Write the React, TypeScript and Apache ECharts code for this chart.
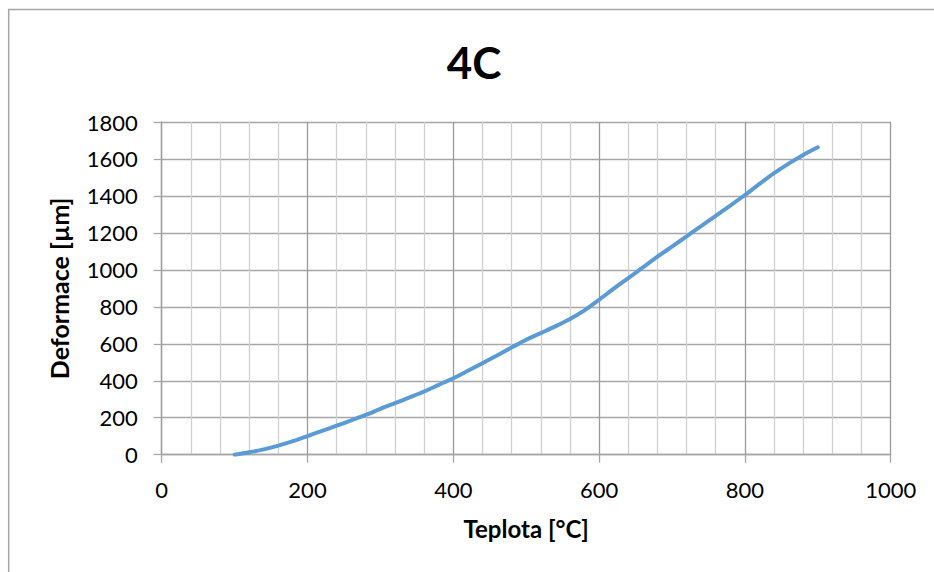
import React, { useEffect, useRef } from "react";
import * as echarts from "echarts";

// Teplota [°C]
const temperature: number[] = [
  100, 120, 140, 160, 180, 200, 220, 240, 260, 280, 300, 320, 340, 360, 380,
  400, 420, 440, 460, 480, 500, 520, 540, 560, 580, 600, 620, 640, 660, 680,
  700, 720, 740, 760, 780, 800, 820, 840, 860, 880, 900,
];

// Deformace [µm]
const deformation: number[] = [
  0, 13, 29, 49, 73, 101, 129, 157, 186, 215, 248, 279, 310, 342, 378,
  414, 454, 495, 537, 580, 622, 658, 694, 734, 781, 838, 898, 955, 1013, 1071,
  1126, 1181, 1237, 1292, 1348, 1405, 1465, 1523, 1575, 1622, 1663,
];

const chartTitle = "4C";
const xTitle = "Teplota [°C]";
const yTitle = "Deformace [µm]";

const FONT = "Lato, 'Open Sans', sans-serif";

const plain = (v: number) => String(v);

export default function App() {
  const ref = useRef<HTMLDivElement>(null);

  useEffect(() => {
    if (!ref.current) return;
    const chart = echarts.init(ref.current, undefined, { renderer: "svg" });

    const points = temperature.map((t, i) => [t, deformation[i]]);

    chart.setOption({
      animation: false,
      backgroundColor: "#ffffff",
      grid: {
        left: 161.7,
        right: 43.3,
        top: 122,
        bottom: 117.3,
        containLabel: false,
      },
      graphic: [
        {
          type: "rect",
          shape: { x: 8.7, y: 9.5, width: 1000, height: 1000 },
          style: { fill: "none", stroke: "#a6a6a6", lineWidth: 1.5 },
          silent: true,
        },
        {
          type: "text",
          x: 474,
          y: 62,
          style: {
            text: chartTitle,
            fontFamily: FONT,
            fontWeight: "bold",
            fontSize: 44,
            fill: "#000000",
            textAlign: "center",
            textVerticalAlign: "middle",
          },
        },
      ],
      xAxis: {
        type: "value",
        min: 0,
        max: 1000,
        interval: 200,
        name: xTitle,
        nameLocation: "middle",
        nameGap: 62,
        nameTextStyle: {
          fontFamily: FONT,
          fontWeight: "bold",
          fontSize: 24,
          color: "#000000",
        },
        axisLine: { show: true, lineStyle: { color: "#a6a6a6", width: 1.3 } },
        axisTick: {
          show: true,
          length: 8,
          lineStyle: { color: "#a6a6a6", width: 1.3 },
        },
        axisLabel: {
          margin: 24,
          fontFamily: FONT,
          fontSize: 22,
          color: "#000000",
          formatter: plain,
        },
        splitLine: { show: true, lineStyle: { color: "#9a9a9a", width: 1.3 } },
        minorTick: { show: false, splitNumber: 5 },
        minorSplitLine: {
          show: true,
          lineStyle: { color: "#d0d0d0", width: 1.3 },
        },
      },
      yAxis: {
        type: "value",
        min: 0,
        max: 1800,
        interval: 200,
        name: yTitle,
        nameLocation: "middle",
        nameGap: 90,
        nameRotate: 90,
        nameTextStyle: {
          fontFamily: FONT,
          fontWeight: "bold",
          fontSize: 25,
          color: "#000000",
        },
        axisLine: { show: true, lineStyle: { color: "#9a9a9a", width: 1.3 } },
        axisTick: {
          show: true,
          length: 8,
          lineStyle: { color: "#a6a6a6", width: 1.3 },
        },
        axisLabel: {
          margin: 24,
          fontFamily: FONT,
          fontSize: 22,
          color: "#000000",
          formatter: plain,
        },
        splitLine: { show: true, lineStyle: { color: "#a6a6a6", width: 1.3 } },
      },
      series: [
        {
          type: "line",
          data: points,
          smooth: 0.3,
          showSymbol: false,
          lineStyle: { color: "#5b9bd5", width: 4, cap: "round" },
          itemStyle: { color: "#5b9bd5" },
        },
      ],
    });

    return () => chart.dispose();
  }, []);

  return (
    <div
      ref={ref}
      style={{ position: "absolute", left: 0, top: 0, width: 934, height: 572 }}
    />
  );
}
